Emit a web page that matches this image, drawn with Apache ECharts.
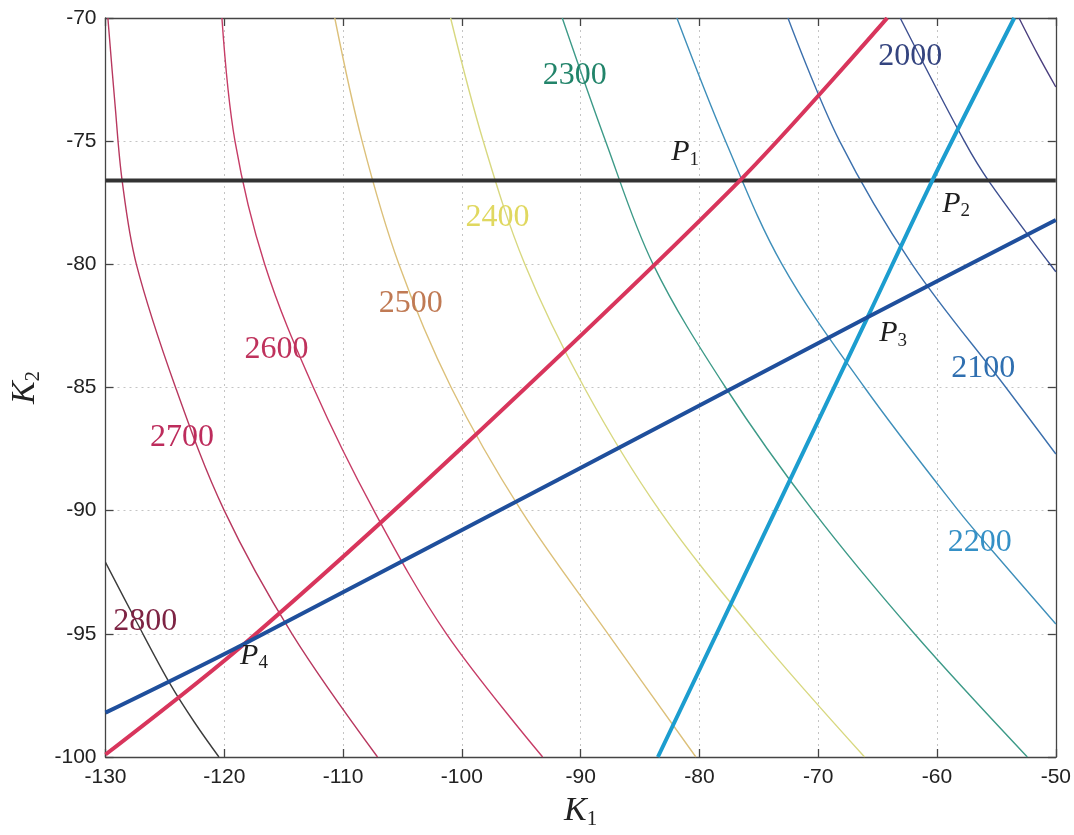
<!DOCTYPE html>
<html>
<head>
<meta charset="utf-8">
<script src="https://cdn.jsdelivr.net/npm/echarts@6/dist/echarts.min.js"></script>
<style>
html,body{margin:0;padding:0;background:#fff;}
#chart{width:1074px;height:835px;}
</style>
</head>
<body>
<div id="chart"></div>
<script>
// ---- Data ----
const xRange = [-130, -50];
const yRange = [-100, -70];

// Iso-curves (level -> points [K1, K2])
const c1900 = [[-53.1,-70],[-51.5,-71.5],[-50,-72.8]];
const c2000 = [[-63.1,-70],[-57.7,-75],[-55.6,-76.65],[-50,-80.3]];
const c2100 = [[-72.55,-70],[-68.2,-75],[-62.1,-80],[-54.2,-85],[-50,-87.7]];
const c2200 = [[-81.9,-70],[-77.8,-75],[-73.05,-80],[-66.1,-85],[-58.2,-90],[-55.4,-91.6],[-50,-94.6]];
const c2300 = [[-91.55,-70],[-87.9,-75],[-83.9,-80],[-77.8,-85],[-70.45,-90],[-61.9,-95],[-52.4,-100]];
const c2400 = [[-100.95,-70],[-98.2,-75],[-94.7,-80],[-89.7,-85],[-83.35,-90],[-75.2,-95],[-66.1,-100]];
const c2500 = [[-110.7,-70],[-108.4,-75],[-105.3,-80],[-100.9,-85],[-95.0,-90],[-87.7,-95],[-80.3,-100]];
const c2600 = [[-120.2,-70],[-119.1,-75],[-116.6,-80],[-112.5,-85],[-107.4,-90],[-101.3,-95],[-93.2,-100]];
const c2700 = [[-129.8,-70],[-129.2,-73.5],[-128.6,-76.6],[-127.4,-80],[-124.1,-85],[-120,-90],[-114.3,-95],[-107.1,-100]];
const c2800 = [[-130,-92.1],[-127.4,-94.5],[-124.6,-97.0],[-122.5,-98.6],[-120.45,-100]];

// Thick constraint lines
const lineBlack = [[-130,-76.6],[-50,-76.6]];
const lineRed   = [[-130,-99.9],[-118.3,-95.4],[-100.35,-87.6],[-76.6,-76.6],[-64.2,-70]];
const lineCyan  = [[-83.5,-100],[-65.85,-82.15],[-60.4,-76.6],[-53.5,-70]];
const lineBlue  = [[-130,-98.2],[-118.3,-95.4],[-65.85,-82.15],[-50,-78.2]];

// Contour labels
const levelText = ['2000','2100','2200','2300','2400','2500','2600','2700','2800'];
const levelLabelX = [-62.25,-56.1,-56.4,-90.5,-97.0,-104.3,-115.6,-123.55,-126.65];
const levelLabelY = [-71.55,-84.25,-91.3,-72.35,-78.1,-81.6,-83.45,-87.05,-94.5];

// Point labels P1..P4
const pointSub = ['1','2','3','4'];
const pointX = [-81.2,-58.4,-63.7,-117.5];
const pointY = [-75.45,-77.55,-82.8,-95.9];

// ---- Styles ----
const curveColors = {
  c1900:'#4b3f7e', c2000:'#3d4f90', c2100:'#3c70ad', c2200:'#3f8fba', c2300:'#3d9a88',
  c2400:'#d8d880', c2500:'#dcc07a', c2600:'#c63c66', c2700:'#b8385f', c2800:'#3c3c3c'
};
const labelColors = ['#34447f','#2f6fb0','#3590c6','#22846a','#e0d860','#c07a54','#bf325c','#bd2c5c','#7e2444'];

const curves = {c1900,c2000,c2100,c2200,c2300,c2400,c2500,c2600,c2700,c2800};

const series = [];
Object.keys(curves).forEach(k => {
  series.push({
    type:'line', name:k, data:curves[k], showSymbol:false, smooth:0.35,
    lineStyle:{color:curveColors[k], width:1.4}, z:2, silent:true
  });
});
[[lineBlack,'#333333'],[lineRed,'#d8355c'],[lineCyan,'#1c9dcf'],[lineBlue,'#1f4f9c']].forEach((p,i) => {
  series.push({
    type:'line', data:p[0], showSymbol:false, smooth:0.3,
    lineStyle:{color:p[1], width:4}, z:3+i, silent:true
  });
});
series.push({
  type:'scatter', symbolSize:0, z:10, silent:true, itemStyle:{opacity:1},
  data: levelText.map((t,i)=>({value:[levelLabelX[i],levelLabelY[i]], name:t,
     label:{color:labelColors[i]}})),
  label:{show:true, position:'inside', formatter:p=>p.name, textBorderWidth:0,
     fontFamily:'Liberation Serif', fontSize:32}
});
series.push({
  type:'scatter', symbolSize:0, z:10, silent:true, itemStyle:{opacity:1},
  data: pointSub.map((s,i)=>({value:[pointX[i],pointY[i]], name:s})),
  label:{show:true, position:'inside', formatter:p=>'{p|P}{s|'+p.name+'}', textBorderWidth:0,
    rich:{p:{fontFamily:'Liberation Serif', fontStyle:'italic', fontSize:30, color:'#1e1e1e', textBorderWidth:0},
          s:{fontFamily:'Liberation Serif', fontSize:19, color:'#1e1e1e', padding:[15,0,0,0], textBorderWidth:0}}}
});

const axisLineStyle = {color:'#444', width:1.3};
const option = {
  animation:false,
  backgroundColor:'#fff',
  grid:{left:103, right:16, top:18, bottom:64},
  xAxis:[{
    type:'value', min:xRange[0], max:xRange[1], interval:10,
    axisLine:{show:true, onZero:false, lineStyle:axisLineStyle},
    axisTick:{show:true, inside:true, length:8, lineStyle:axisLineStyle},
    axisLabel:{fontFamily:'Liberation Sans', fontSize:21, color:'#222', margin:10},
    splitLine:{show:true, lineStyle:{color:'#c4c4c4', type:[2,4], width:1}},
    name:'{k|K}{s|1}', nameLocation:'middle', nameGap:36,
    nameTextStyle:{rich:{k:{fontFamily:'Liberation Serif', fontStyle:'italic', fontSize:34, color:'#222'},
      s:{fontFamily:'Liberation Serif', fontSize:21, color:'#222', padding:[16,0,0,0]}}}
  },{
    type:'value', position:'top', min:xRange[0], max:xRange[1], interval:10,
    axisLine:{show:true, onZero:false, lineStyle:axisLineStyle},
    axisTick:{show:true, inside:true, length:8, lineStyle:axisLineStyle},
    axisLabel:{show:false}, splitLine:{show:false}
  }],
  yAxis:[{
    type:'value', min:yRange[0], max:yRange[1], interval:5,
    axisLine:{show:true, onZero:false, lineStyle:axisLineStyle},
    axisTick:{show:true, inside:true, length:8, lineStyle:axisLineStyle},
    axisLabel:{fontFamily:'Liberation Sans', fontSize:21, color:'#222', margin:9},
    splitLine:{show:true, lineStyle:{color:'#c4c4c4', type:[2,4], width:1}},
    name:'{k|K}{s|2}', nameLocation:'middle', nameGap:62, nameRotate:90,
    nameTextStyle:{rich:{k:{fontFamily:'Liberation Serif', fontStyle:'italic', fontSize:34, color:'#222'},
      s:{fontFamily:'Liberation Serif', fontSize:21, color:'#222', padding:[16,0,0,0]}}}
  },{
    type:'value', position:'right', min:yRange[0], max:yRange[1], interval:5,
    axisLine:{show:true, onZero:false, lineStyle:axisLineStyle},
    axisTick:{show:true, inside:true, length:8, lineStyle:axisLineStyle},
    axisLabel:{show:false}, splitLine:{show:false}
  }],
  series: series
};
const chart = echarts.init(document.getElementById('chart'), null, {renderer:'canvas'});
chart.setOption(option);
</script>
</body>
</html>
